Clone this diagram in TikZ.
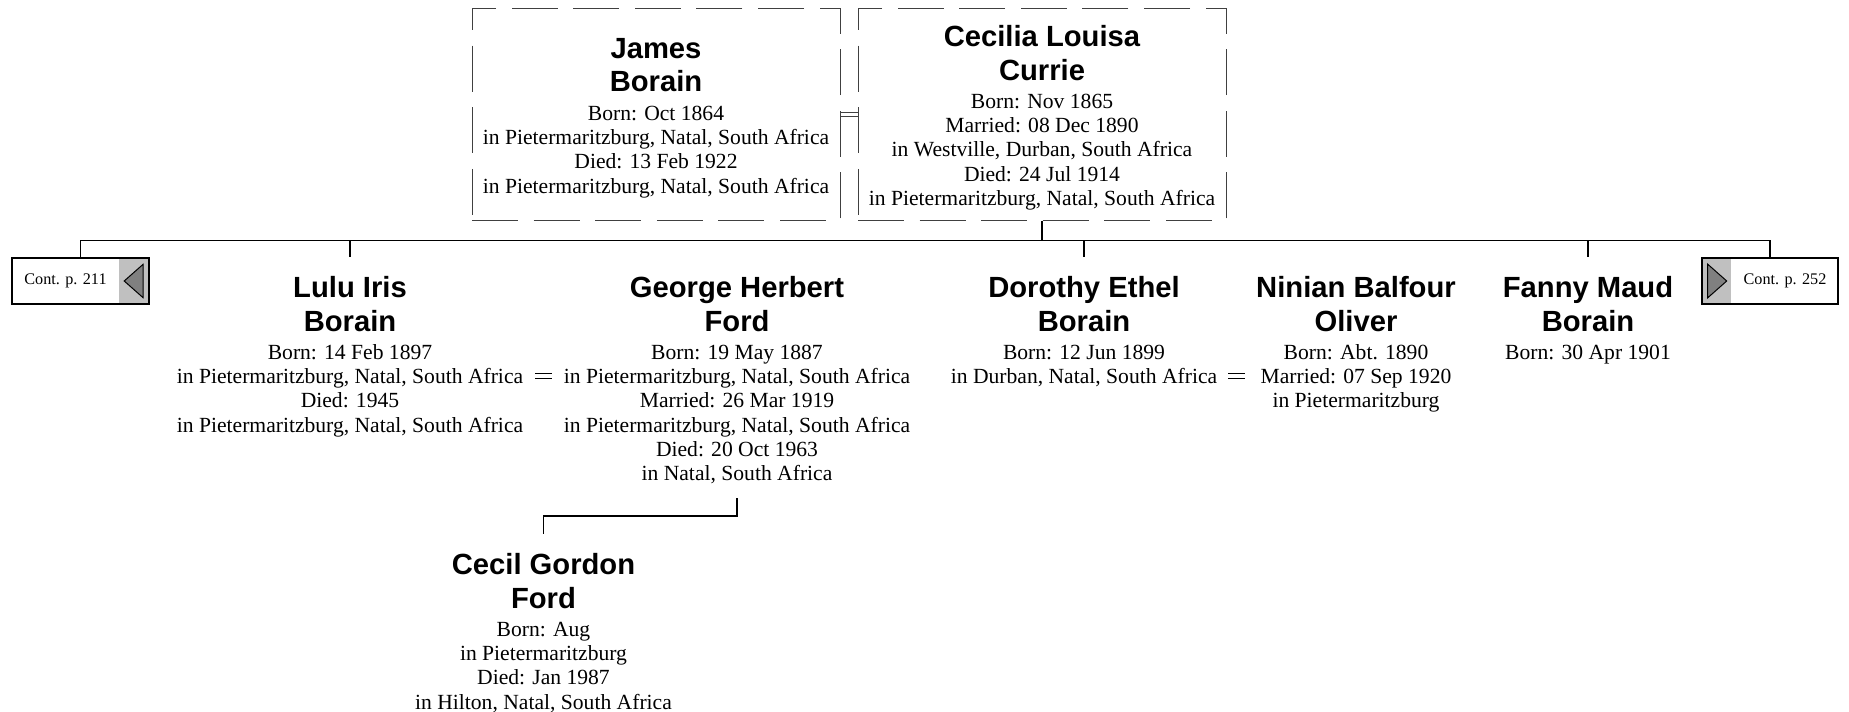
\documentclass[tikz,border=0pt]{standalone}
\usepackage{fontspec}
\setmainfont{Liberation Serif}
\newfontfamily\namefam{Liberation Sans}
\usetikzlibrary{positioning,fit,calc}
\newcommand\infofont{\fontsize{10.8}{12.1}\selectfont\lineskiplimit=-100pt}
\newcommand\namefont{\namefam\bfseries\fontsize{14.6}{16.75}\selectfont}
\newcommand\contfont{\fontsize{8.1}{9.5}\selectfont}
\newcommand\pname[2]{\namefont #1\\[4.65pt]\namefont #2\\[2.15pt]}
\definecolor{cLine}{HTML}{404040}
\definecolor{cTab}{HTML}{C0C0C0}
\definecolor{cArrow}{HTML}{808080}
\tikzset{
  person/.style={align=center, font=\infofont, inner sep=0pt, anchor=north},
  parentbox/.style={
    draw=cLine, line width=0.5pt, dash pattern=on 23pt off 7.8pt,
    minimum width=184pt, minimum height=106pt, inner sep=0pt,
  },
  spouseline/.style={draw=cLine, line width=0.5pt, double, double distance=1.5pt},
  kinline/.style={draw=black, line width=0.9pt},
  wedmark/.style={draw=black, line width=0.9pt, double, double distance=1.6pt},
  contlabel/.style={font=\contfont, minimum width=53pt, minimum height=23pt, inner sep=0pt},
  conttab/.style={fill=cTab, minimum width=14.5pt, minimum height=23pt, inner sep=0pt},
  contframe/.style={draw=black, line width=1pt, inner sep=0pt},
  tabarrow/.style={draw=black, line width=0.5pt, fill=cArrow},
}

\begin{document}
\begin{tikzpicture}[x=0.5pt, y=-0.5pt]
\useasboundingbox (0,0) rectangle (1849,712);

% --- parents ---
\node[parentbox] (jamesbox) at (656,114) {};
\node[parentbox] (ceciliabox) at (1042,114) {};

\node[person] (james) at (656,38)
  {\pname{James}{Borain}Born: Oct 1864\\in Pietermaritzburg, Natal, South Africa\\
   Died: 13 Feb 1922\\in Pietermaritzburg, Natal, South Africa};
\node[person] (cecilia) at (1042,25)
  {\pname{Cecilia Louisa}{Currie}Born: Nov 1865\\Married: 08 Dec 1890\\
   in Westville, Durban, South Africa\\Died: 24 Jul 1914\\
   in Pietermaritzburg, Natal, South Africa};

\draw[spouseline] (jamesbox.east) -- (ceciliabox.west);

% --- children and spouses ---
\node[person] (lulu) at (350,276)
  {\pname{Lulu Iris}{Borain}Born: 14 Feb 1897\\in Pietermaritzburg, Natal, South Africa\\
   Died: 1945\\in Pietermaritzburg, Natal, South Africa};
\node[person] (george) at (737,276)
  {\pname{George Herbert}{Ford}Born: 19 May 1887\\in Pietermaritzburg, Natal, South Africa\\
   Married: 26 Mar 1919\\in Pietermaritzburg, Natal, South Africa\\
   Died: 20 Oct 1963\\in Natal, South Africa};
\node[person] (dorothy) at (1084,276)
  {\pname{Dorothy Ethel}{Borain}Born: 12 Jun 1899\\in Durban, Natal, South Africa};
\node[person] (ninian) at (1356,276)
  {\pname{Ninian Balfour}{Oliver}Born: Abt. 1890\\Married: 07 Sep 1920\\in Pietermaritzburg};
\node[person] (fanny) at (1588,276)
  {\pname{Fanny Maud}{Borain}Born: 30 Apr 1901};

% --- grandchild ---
\node[person] (cecil) at (543.5,553)
  {\pname{Cecil Gordon}{Ford}Born: Aug\\in Pietermaritzburg\\
   Died: Jan 1987\\in Hilton, Natal, South Africa};

% --- continuation boxes ---
\node[contlabel] (p211) at (65.5,281) {Cont. p. 211};
\node[conttab, right=0pt of p211] (tab211) {};
\node[contframe, fit=(p211)(tab211)] (cont211) {};
\draw[tabarrow] ([xshift=-4.8pt]tab211.center) -- ([xshift=4.6pt,yshift=8.3pt]tab211.center)
  -- ([xshift=4.6pt,yshift=-8.3pt]tab211.center) -- cycle;

\node[contlabel] (p252) at (1785,281) {Cont. p. 252};
\node[conttab, left=0pt of p252] (tab252) {};
\node[contframe, fit=(tab252)(p252)] (cont252) {};
\draw[tabarrow] ([xshift=5pt]tab252.center) -- ([xshift=-4.6pt,yshift=8.5pt]tab252.center)
  -- ([xshift=-4.6pt,yshift=-8.5pt]tab252.center) -- cycle;

% --- family lines ---
\coordinate (sib) at ([yshift=-10pt]ceciliabox.south);
\draw[kinline] (ceciliabox.south) -- (sib);
\draw[kinline] (cont211.north) |- (sib) -| (cont252.north);
\foreach \kid in {lulu,dorothy,fanny}
  \draw[kinline] (\kid.north |- sib) -- ([yshift=9.5pt]\kid.north);
\draw[kinline] ([yshift=-7pt]george.south) -- ++(0,18) -| ([yshift=9.5pt]cecil.north);

% --- marriage marks ---
\draw[wedmark] ($(lulu.north east)!.5!(george.north west)$) ++(-8.5,100) -- ++(17,0);
\draw[wedmark] ($(dorothy.north east)!.5!(ninian.north west)$) ++(-8.5,100) -- ++(17,0);

\end{tikzpicture}
\end{document}
